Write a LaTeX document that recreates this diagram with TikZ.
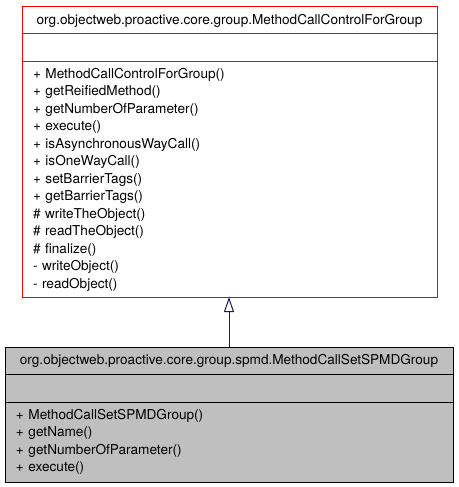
\documentclass[tikz,border=0pt]{standalone}
\usepackage{fontspec}
\setmainfont{TeX Gyre Heros}
\usetikzlibrary{positioning,arrows.meta}
\definecolor{boxgray}{RGB}{191,191,191}
\definecolor{edgeblue}{RGB}{25,25,112}
\begin{document}
\begin{tikzpicture}[x=1pt,y=-1pt,
    font=\fontsize{13.6}{17.5}\selectfont,
    cell/.style={draw, line width=1pt, inner sep=0pt, outer sep=0pt},
    basecell/.style={cell, red, fill=white, text=black, minimum width=415pt},
    subcell/.style={cell, black, fill=boxgray, minimum width=448pt},
    ops/.style={align=left, inner xsep=11pt, inner ysep=0pt}]
    \useasboundingbox (0,0) rectangle (458,487);

    % base class
    \node[basecell, minimum height=27pt, anchor=north west] (basename) at (22,7)
        {org.objectweb.proactive.core.group.MethodCallControlForGroup};
    \node[basecell, minimum height=28pt, below=0pt of basename] (baseattr) {};
    \node[basecell, ops, text width=393pt, minimum height=235pt, below=0pt of baseattr] (baseops)
        {+ MethodCallControlForGroup()\\
         + getReifiedMethod()\\
         + getNumberOfParameter()\\
         + execute()\\
         + isAsynchronousWayCall()\\
         + isOneWayCall()\\
         + setBarrierTags()\\
         + getBarrierTags()\\
         \# writeTheObject()\\
         \# readTheObject()\\
         \# finalize()\\
         - writeObject()\\
         - readObject()};

    % derived class
    \node[subcell, minimum height=27pt, anchor=north west] (subname) at (5,347)
        {org.objectweb.proactive.core.group.spmd.MethodCallSetSPMDGroup};
    \node[subcell, minimum height=28pt, below=0pt of subname] (subattr) {};
    \node[subcell, ops, text width=426pt, minimum height=80pt, below=0pt of subattr] (subops)
        {+ MethodCallSetSPMDGroup()\\
         + getName()\\
         + getNumberOfParameter()\\
         + execute()};

    \draw[edgeblue, line width=1pt, -{Triangle[open, width=10pt, length=15pt, fill=white]}]
        (subname.north) -- (subname.north |- baseops.south);
\end{tikzpicture}
\end{document}
